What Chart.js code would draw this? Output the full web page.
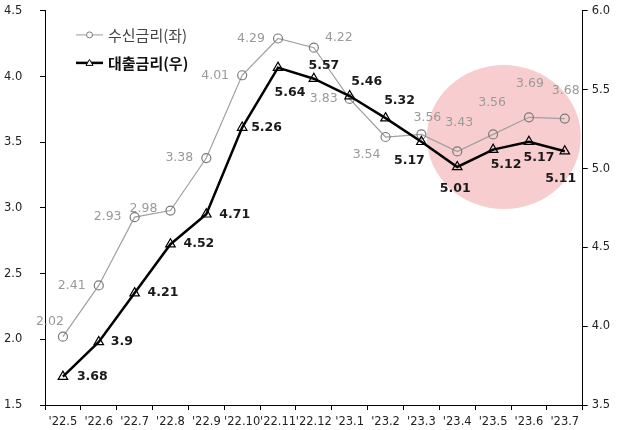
<!DOCTYPE html>
<html>
<head>
<meta charset="utf-8">
<script src="https://cdn.jsdelivr.net/npm/chart.js@4"></script>
<style>
  html, body { margin: 0; padding: 0; background: #fff; }
  #wrap { width: 618px; height: 430px; }
</style>
</head>
<body>
<div id="wrap"><canvas id="rateChart" width="618" height="430"></canvas></div>
<script>
const months = ["'22.5", "'22.6", "'22.7", "'22.8", "'22.9", "'22.10", "'22.11", "'22.12",
                "'23.1", "'23.2", "'23.3", "'23.4", "'23.5", "'23.6", "'23.7"];
const depositRates = [2.02, 2.41, 2.93, 2.98, 3.38, 4.01, 4.29, 4.22, 3.83, 3.54, 3.56, 3.43, 3.56, 3.69, 3.68];
const loanRates = [3.68, 3.9, 4.21, 4.52, 4.71, 5.26, 5.64, 5.57, 5.46, 5.32, 5.17, 5.01, 5.12, 5.17, 5.11];
const depositLabel = '수신금리(좌)';
const loanLabel = '대출금리(우)';

// label placement around each point: [dx, dy, align]
const depositLabelPos = [
  [-13, -15, 'center'], [-27, 0, 'center'], [-27, 0, 'center'], [-27, -2, 'center'], [-27, 0, 'center'],
  [-27, 0, 'center'], [-27, 0, 'center'], [25, -10, 'center'], [-26, 0, 'center'], [-19, 18, 'center'],
  [6, -17, 'center'], [2, -29, 'center'], [-1, -32, 'center'], [1, -34, 'center'], [1, -28, 'center']
];
const loanLabelPos = [
  [14, 0, 'left'], [12, 0, 'left'], [13, 0, 'left'], [13, 0, 'left'], [13, 0, 'left'],
  [9, 0, 'left'], [12, 25, 'center'], [10, -13, 'center'], [17, -14, 'center'], [14, -17, 'center'],
  [-12, 19, 'center'], [-2, 22, 'center'], [13, 15, 'center'], [10, 16, 'center'], [-4, 28, 'center']
];

const tickFont = { family: "'DejaVu Sans', sans-serif", size: 11.5 };

// pink highlight behind the recent months
const highlightPlugin = {
  id: 'highlight',
  beforeDatasetsDraw(chart) {
    const { ctx, scales } = chart;
    const cx = scales.x.getPixelForValue(12.3);
    const cy = scales.y2.getPixelForValue(5.2);
    ctx.save();
    ctx.beginPath();
    ctx.ellipse(cx, cy, 77, 72, 0, 0, Math.PI * 2);
    ctx.fillStyle = '#f8cdcf';
    ctx.fill();
    ctx.restore();
  }
};

const valueLabelPlugin = {
  id: 'valueLabels',
  afterDatasetsDraw(chart) {
    const { ctx } = chart;
    ctx.save();
    ctx.textBaseline = 'middle';
    const dep = chart.getDatasetMeta(0).data;
    ctx.font = "12.5px 'DejaVu Sans', sans-serif";
    ctx.fillStyle = '#9a9a9a';
    dep.forEach((pt, i) => {
      const [dx, dy, align] = depositLabelPos[i];
      ctx.textAlign = align;
      ctx.fillText(String(depositRates[i]), pt.x + dx, pt.y + dy);
    });
    const loan = chart.getDatasetMeta(1).data;
    ctx.font = "bold 12.5px 'DejaVu Sans', sans-serif";
    ctx.fillStyle = '#1a1a1a';
    loan.forEach((pt, i) => {
      const [dx, dy, align] = loanLabelPos[i];
      ctx.textAlign = align;
      ctx.fillText(String(loanRates[i]), pt.x + dx, pt.y + dy);
    });
    ctx.restore();
  }
};

// legend drawn inside the plot area, top left
const innerLegendPlugin = {
  id: 'innerLegend',
  afterDraw(chart) {
    const { ctx, chartArea } = chart;
    const x0 = chartArea.left + 31;
    const rows = [
      { y: chartArea.top + 24, label: depositLabel, color: '#999', width: 1, marker: 'circle', text: '#444', bold: false },
      { y: chartArea.top + 52, label: loanLabel, color: '#000', width: 2.5, marker: 'triangle', text: '#111', bold: true }
    ];
    ctx.save();
    rows.forEach(r => {
      ctx.strokeStyle = r.color;
      ctx.lineWidth = r.width;
      ctx.beginPath();
      ctx.moveTo(x0, r.y);
      ctx.lineTo(x0 + 27, r.y);
      ctx.stroke();
      ctx.lineWidth = 1;
      ctx.fillStyle = '#fff';
      ctx.strokeStyle = r.marker === 'circle' ? '#777' : '#000';
      ctx.beginPath();
      if (r.marker === 'circle') {
        ctx.arc(x0 + 13.5, r.y, 3, 0, Math.PI * 2);
      } else {
        ctx.moveTo(x0 + 13.5, r.y - 3.5);
        ctx.lineTo(x0 + 17, r.y + 2.5);
        ctx.lineTo(x0 + 10, r.y + 2.5);
        ctx.closePath();
      }
      ctx.fill();
      ctx.stroke();
      ctx.font = (r.bold ? 'bold ' : '') + "15px 'Noto Sans CJK KR', sans-serif";
      ctx.fillStyle = r.text;
      ctx.textAlign = 'left';
      ctx.textBaseline = 'middle';
      ctx.fillText(r.label, x0 + 32, r.y);
    });
    ctx.restore();
  }
};

new Chart(document.getElementById('rateChart'), {
  type: 'line',
  data: {
    labels: months,
    datasets: [
      {
        label: depositLabel,
        data: depositRates,
        yAxisID: 'y',
        borderColor: '#a0a0a0',
        borderWidth: 1.2,
        pointStyle: 'circle',
        pointRadius: 4.5,
        pointBorderColor: '#7a7a7a',
        pointBorderWidth: 1.2,
        pointBackgroundColor: 'rgba(0,0,0,0)',
        tension: 0,
        order: 2
      },
      {
        label: loanLabel,
        data: loanRates,
        yAxisID: 'y2',
        borderColor: '#000',
        borderWidth: 2.5,
        pointStyle: 'triangle',
        pointRadius: 5.5,
        pointBorderColor: '#000',
        pointBorderWidth: 1.2,
        pointBackgroundColor: 'rgba(0,0,0,0)',
        tension: 0,
        order: 1
      }
    ]
  },
  options: {
    responsive: false,
    animation: false,
    layout: { padding: { left: 4, right: 4, top: 5, bottom: 0 } },
    plugins: {
      legend: { display: false },
      tooltip: { enabled: false }
    },
    scales: {
      x: {
        offset: true,
        afterFit: scale => { scale.height = 25; },
        grid: { offset: true, drawOnChartArea: false, drawTicks: true, tickLength: 5, tickColor: '#000' },
        border: { display: true, color: '#000', width: 1 },
        ticks: { color: '#222', font: tickFont, maxRotation: 0, autoSkip: false, padding: 5 }
      },
      y: {
        position: 'left',
        min: 1.5,
        max: 4.5,
        afterFit: scale => { scale.width = 41; },
        ticks: { stepSize: 0.5, color: '#222', font: tickFont, padding: 4, crossAlign: 'far', callback: v => v.toFixed(1) },
        grid: { drawOnChartArea: false, tickLength: 5, tickColor: '#000' },
        border: { display: true, color: '#000', width: 1 }
      },
      y2: {
        position: 'right',
        min: 3.5,
        max: 6.0,
        ticks: { stepSize: 0.5, color: '#222', font: tickFont, padding: 4, callback: v => v.toFixed(1) },
        grid: { drawOnChartArea: false, tickLength: 5, tickColor: '#000' },
        border: { display: true, color: '#000', width: 1 }
      }
    }
  },
  plugins: [highlightPlugin, valueLabelPlugin, innerLegendPlugin]
});
</script>
</body>
</html>
